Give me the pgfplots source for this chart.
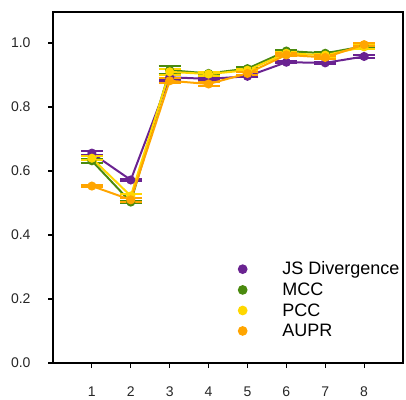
\documentclass[border=0pt]{standalone}
\usepackage{fontspec}
\setmainfont{Liberation Sans}
\usepackage{pgfplots}
\pgfplotsset{compat=1.18}
\definecolor{cJS}{HTML}{6A2391}
\definecolor{cMCC}{HTML}{4A8A0E}
\definecolor{cPCC}{HTML}{FFD700}
\definecolor{cAUPR}{HTML}{FFA500}
\begin{document}
\begin{tikzpicture}
\begin{axis}[
  name=ax,
  scale only axis, width=350bp, height=351bp,
  xmin=0, xmax=9, ymin=0, ymax=1.097,
  xtick={1,...,8}, ytick={0,0.2,0.4,0.6,0.8,1.0},
  yticklabel style={/pgf/number format/fixed,/pgf/number format/fixed zerofill,/pgf/number format/precision=1},
  /pgf/number format/assume math mode=true,
  tick label style={font=\fontsize{14bp}{16bp}\selectfont, color=black!85},
  tick align=outside, tick pos=left, major tick length=5bp,
  every tick/.style={black, line width=1.2bp},
  axis line style={line width=1.2bp},
  yticklabel style={xshift=-14bp},
  xticklabel style={yshift=-15bp},
  legend cell align=left,
  legend style={draw=none, fill=none, at={(rel axis cs:0.522,0.30)}, anchor=north west,
    font=\fontsize{18bp}{19bp}\selectfont, row sep=2.5bp,
    /tikz/every odd column/.append style={column sep=34bp}},
  every axis plot/.append style={line width=2bp, mark=*, mark size=3.5bp},
  error bars/error bar style={line width=2.2bp},
  error bars/error mark options={rotate=90, mark size=11bp, line width=2.2bp},
]
\addlegendimage{only marks, mark=*, mark size=3.8bp, cJS}
\addlegendimage{only marks, mark=*, mark size=3.8bp, cMCC}
\addlegendimage{only marks, mark=*, mark size=3.8bp, cPCC}
\addlegendimage{only marks, mark=*, mark size=3.8bp, cAUPR}
\addplot[forget plot, color=cJS, error bars/.cd, y dir=both, y explicit] coordinates {
 (1,0.656) +- (0,0.006) (2,0.572) +- (0,0.003) (3,0.893) +- (0,0.010) (4,0.888) +- (0,0.005)
 (5,0.896) +- (0,0.003) (6,0.940) +- (0,0.003) (7,0.938) +- (0,0.003) (8,0.958) +- (0,0.004)};
\addplot[forget plot, color=cMCC, error bars/.cd, y dir=both, y explicit] coordinates {
 (1,0.632) +- (0,0.006) (2,0.503) +- (0,0.004) (3,0.915) +- (0,0.013) (4,0.905) +- (0,0.004)
 (5,0.920) +- (0,0.004) (6,0.975) +- (0,0.004) (7,0.968) +- (0,0.004) (8,0.990) +- (0,0.006)};
\addplot[forget plot, color=cPCC, error bars/.cd, y dir=both, y explicit] coordinates {
 (1,0.640) +- (0,0.006) (2,0.522) +- (0,0.006) (3,0.910) +- (0,0.010) (4,0.903) +- (0,0.006)
 (5,0.915) +- (0,0.004) (6,0.968) +- (0,0.004) (7,0.962) +- (0,0.004) (8,0.988) +- (0,0.006)};
\addplot[forget plot, color=cAUPR, error bars/.cd, y dir=both, y explicit] coordinates {
 (1,0.553) +- (0,0.003) (2,0.510) +- (0,0.006) (3,0.882) +- (0,0.008) (4,0.872) +- (0,0.006)
 (5,0.905) +- (0,0.004) (6,0.963) +- (0,0.004) (7,0.955) +- (0,0.006) (8,0.995) +- (0,0.005)};
\legend{JS Divergence, MCC, PCC, AUPR}
\end{axis}
\path (ax.south west) ++(-53bp,-34bp) (ax.north east) ++(3bp,12bp);
\end{tikzpicture}
\end{document}
